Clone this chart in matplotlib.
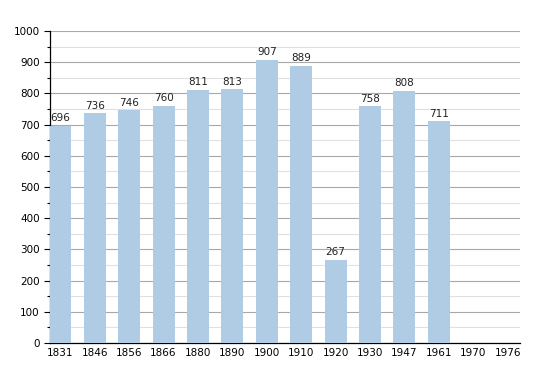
import numpy as np
import matplotlib.pyplot as plt
from matplotlib.ticker import MultipleLocator

years = ["1831", "1846", "1856", "1866", "1880", "1890", "1900", "1910",
         "1920", "1930", "1947", "1961", "1970", "1976"]
population = [696, 736, 746, 760, 811, 813, 907, 889, 267, 758, 808, 711,
              np.nan, np.nan]

fig = plt.figure(figsize=(5.5, 3.73), dpi=100)
ax = fig.add_axes([0.0909, 0.0804, 0.854, 0.8366])

x = np.arange(len(years))
vals = np.array(population, dtype=float)
has = ~np.isnan(vals)
ax.bar(x[has], vals[has], width=0.64, color="#b0cce4", zorder=3)
for xi, v in zip(x[has], vals[has]):
    ax.text(xi, v + 8, f"{int(v)}", ha="center", va="bottom", fontsize=7.5,
            color="#222222", zorder=4)

ax.set_xlim(-0.3, len(years) - 1 + 0.35)
ax.set_ylim(0, 1000)
ax.set_xticks(x)
ax.set_xticklabels(years, fontsize=7.5)
ax.yaxis.set_major_locator(MultipleLocator(100))
ax.yaxis.set_minor_locator(MultipleLocator(50))
ax.tick_params(axis="y", labelsize=7.5, length=4, width=0.8)
ax.tick_params(axis="y", which="minor", length=2.5, width=0.8)
ax.tick_params(axis="x", length=0)
ax.grid(axis="y", which="major", color="#a8a8a8", linewidth=0.8, zorder=0)
ax.grid(axis="y", which="minor", color="#e0e0e0", linewidth=0.8, zorder=0)
for s in ["top", "right"]:
    ax.spines[s].set_visible(False)
ax.spines["left"].set_linewidth(0.9)
ax.spines["bottom"].set_linewidth(0.9)

fig.savefig("out.png", dpi=100)
